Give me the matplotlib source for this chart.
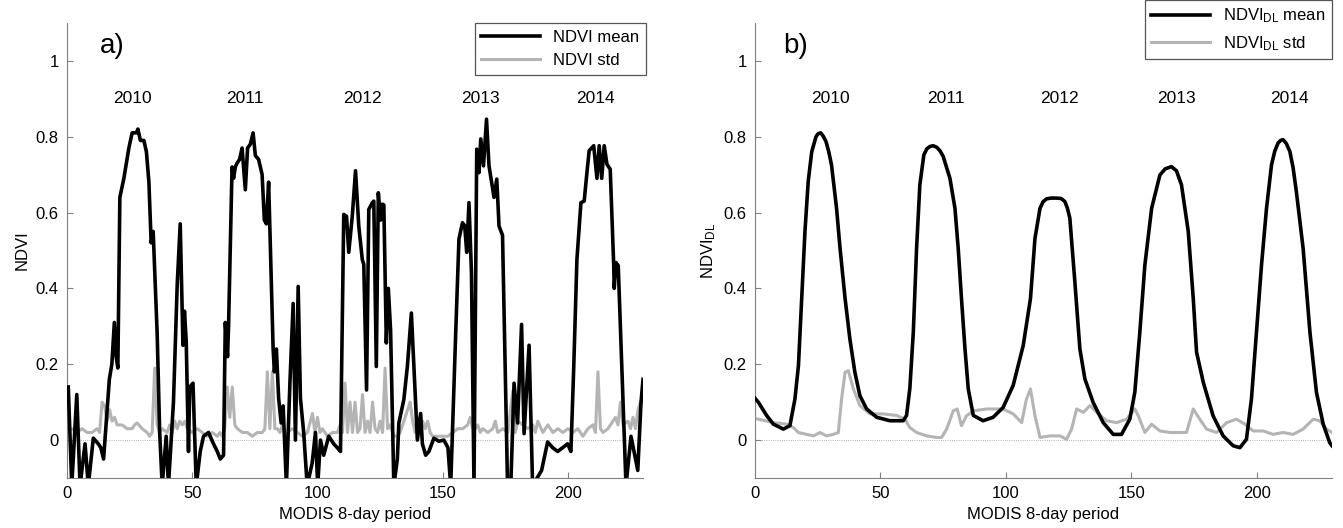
import matplotlib
matplotlib.use("Agg")
import matplotlib.pyplot as plt

plt.rcParams["font.family"] = ["Liberation Sans", "DejaVu Sans"]
plt.rcParams["mathtext.default"] = "regular"

# a) raw NDVI, mean over the field (vertices read off the picture)
ndvi_x = [0.5, 1.9, 3.9, 5.2, 7.2, 8.5, 10.5, 12.5, 13.5, 14.6, 16.9, 17.9, 18.9, 19.6, 20.3,
          21.1, 22.7, 24.7, 26, 27.7, 28.3, 29.3, 30.7, 31.7, 32.7, 33.6, 34.4, 36, 37, 38,
          39.6, 40.5, 42.5, 44, 45.2, 46.3, 46.9, 47.6, 48.5, 49, 50.3, 51.6, 53.2, 54.5, 56.5,
          58.5, 60, 61.2, 62.5, 63.2, 64.1, 64.5, 65.9, 66.5, 67.2, 67.9, 68.9, 69.9, 71.2, 72.1,
          73.2, 74.3, 75.2, 76.5, 77.9, 78.8, 79.6, 80.5, 81.2, 82.3, 82.8, 83.6, 84.5, 85.5, 86.3,
          87.6, 89, 90.3, 91.2, 92.3, 93.2, 94.5, 95.9, 97.9, 99.2, 100.1, 101.2, 102.5, 104.5, 106.5,
          107.9, 109.2, 110.5, 111.6, 112.5, 113.9, 115.2, 116.5, 117.9, 118.5, 119.6, 120.5, 121.9, 122.5, 123.5,
          124.3, 125.2, 125.9, 126.5, 127.5, 128.3, 129.2, 130.5, 131.9, 132.5, 134.5, 135.9, 137.5, 138.5, 139.9,
          141.2, 141.9, 143.2, 144.5, 146.5, 148.5, 150.5, 152.1, 153.2, 155.2, 156.5, 157.9, 158.8, 159.6, 160.5,
          161.5, 162.5, 163.6, 164.5, 165.2, 166.3, 167.5, 168.5, 170.5, 171.6, 172.5, 173.9, 175.9, 177.2, 178.5,
          179.9, 181.5, 182.5, 184.5, 185.9, 189.5, 191.9, 193.9, 195.9, 197.9, 199.9, 201.2, 202.3, 203.6, 205.2,
          206.5, 207.6, 208.5, 210.3, 211.6, 212.5, 213.5, 214.5, 215.6, 216.9, 218.3, 218.5, 219.2, 220.1, 223.2,
          225.2, 227.9, 229.2, 230]
ndvi_mean = [0.14, -0.12, 0.12, -0.12, -0.01, -0.12, 0.005, -0.01, -0.02, -0.05, 0.16, 0.2, 0.31, 0.22, 0.19,
             0.64, 0.69, 0.77, 0.81, 0.81, 0.82, 0.79, 0.79, 0.76, 0.68, 0.52, 0.55, 0.28, 0.02, -0.12,
             0.01, -0.12, 0.1, 0.41, 0.57, 0.25, 0.34, 0.26, -0.03, 0.14, 0.15, -0.12, -0.03, 0.01, 0.02,
             -0.01, -0.03, -0.05, -0.04, 0.31, 0.22, 0.30, 0.72, 0.69, 0.72, 0.73, 0.74, 0.77, 0.66, 0.77,
             0.78, 0.81, 0.75, 0.74, 0.70, 0.58, 0.57, 0.68, 0.51, 0.24, 0.18, 0.24, 0.11, 0.045, 0.09,
             -0.12, 0.15, 0.36, 0.0, 0.405, 0.11, 0.02, -0.12, -0.06, 0.02, -0.12, 0.0, -0.04, 0.01, -0.01,
             -0.02, -0.03, 0.595, 0.59, 0.495, 0.59, 0.71, 0.564, 0.476, 0.463, 0.132, 0.608, 0.626, 0.63, 0.194,
             0.652, 0.58, 0.622, 0.62, 0.256, 0.40, 0.29, -0.12, -0.05, 0.045, 0.107, 0.194, 0.335, 0.194, 0.0,
             0.07, -0.01, -0.04, -0.03, 0.005, -0.003, 0.0, -0.02, -0.12, 0.282, 0.53, 0.573, 0.565, 0.495, 0.626,
             0.44, -0.12, 0.767, 0.705, 0.794, 0.723, 0.846, 0.723, 0.64, 0.688, 0.564, 0.54, -0.12, -0.12, 0.15,
             0.045, 0.305, 0.017, 0.25, -0.12, -0.08, -0.005, -0.02, -0.03, -0.02, -0.01, -0.03, 0.185, 0.476, 0.626,
             0.63, 0.705, 0.763, 0.776, 0.69, 0.776, 0.69, 0.776, 0.727, 0.714, 0.46, 0.40, 0.468, 0.46, -0.12,
             0.01, -0.08, 0.10, 0.16]

# a) raw NDVI, standard deviation
std_x = [0, 2, 4, 6, 8, 10, 12, 13, 14, 15, 16, 17, 18, 19, 20, 22, 24, 26, 27, 28, 30, 32, 33, 34, 35,
         36, 37, 38, 40, 41, 42, 43, 44, 45, 46, 47, 48, 50, 52, 54, 56, 58, 60, 61, 62, 63, 64, 65, 66,
         67, 68, 69, 70, 72, 74, 76, 78, 79, 80, 81, 82, 83, 84, 85, 86, 87, 88, 90, 92, 94, 96, 98, 99,
         100, 101, 102, 104, 106, 108, 109, 110, 111, 112, 113, 114, 115, 116, 117, 118, 119, 120, 121, 122,
         123, 124, 125, 126, 127, 128, 129, 130, 131, 132, 133, 134, 136, 137, 138, 139, 140, 142, 143, 144,
         145, 146, 148, 150, 152, 154, 156, 158, 160, 161, 162, 163, 164, 165, 166, 168, 170, 171, 172, 174,
         176, 178, 179, 180, 182, 184, 186, 187, 188, 190, 192, 194, 196, 198, 200, 202, 204, 206, 208, 210,
         211, 212, 213, 214, 216, 218, 219, 220, 221, 222, 224, 225, 226, 227, 228, 229, 230]
ndvi_std = [0.02, 0.03, 0.02, 0.03, 0.02, 0.02, 0.03, 0.02, 0.10, 0.09, 0.05, 0.08, 0.05, 0.06, 0.04, 0.04,
            0.03, 0.03, 0.04, 0.045, 0.03, 0.02, 0.01, 0.02, 0.19,
            0.04, 0.02, 0.03, 0.02, 0.04, 0.02, 0.05, 0.03, 0.05, 0.04, 0.05, 0.03, 0.02, 0.03, 0.02, 0.01,
            0.02, 0.01, 0.02, 0.01, 0.03, 0.14, 0.06, 0.14,
            0.04, 0.03, 0.025, 0.02, 0.02, 0.01, 0.02, 0.02, 0.03, 0.18, 0.03, 0.18, 0.03, 0.03, 0.02, 0.04,
            0.01, 0.02, 0.03, 0.02, 0.01, 0.02, 0.07, 0.02,
            0.06, 0.02, 0.03, 0.01, 0.02, 0.02, 0.04, 0.02, 0.15, 0.02, 0.10, 0.02, 0.10, 0.02, 0.03, 0.12,
            0.02, 0.05, 0.02, 0.10,
            0.03, 0.02, 0.05, 0.02, 0.19, 0.03, 0.04, 0.02, 0.01, 0.01, 0.02, 0.04, 0.08, 0.10, 0.05, 0.02,
            0.02, 0.05, 0.03, 0.05,
            0.02, 0.01, 0.01, 0.01, 0.01, 0.02, 0.03, 0.03, 0.04, 0.06, 0.03, 0.03, 0.04, 0.02, 0.03, 0.02,
            0.03, 0.05, 0.02, 0.03,
            0.02, 0.13, 0.02, 0.05, 0.04, 0.03, 0.04, 0.02, 0.05, 0.02, 0.04, 0.02, 0.03, 0.02, 0.03, 0.02,
            0.03, 0.01, 0.03, 0.04,
            0.02, 0.18, 0.03, 0.02, 0.03, 0.05, 0.06, 0.04, 0.10, 0.04, 0.05, 0.03, 0.06, 0.03, 0.08, 0.10, 0.10]

# b) double-logistic fitted NDVI, mean
dl_x = [0, 1.3, 4.6, 7.3, 11.3, 13.9, 15.9, 17.3, 18.6, 19.9, 21.2, 22.6, 24.3, 25.2, 26.2, 27.3, 28.3,
        29.4, 30.5, 32.5, 33.9, 35.9, 37.8, 39.8, 41.8, 44.5, 48.5, 53.8, 59.1, 60.4, 61.7, 63.1, 64.4,
        65.7, 67.3, 68.5, 69.7, 71, 72.4, 73.7, 75.0, 77.7, 79.7, 81, 82.3, 83.7, 85, 87, 90.9, 94.9, 98.9,
        102.9, 106.9, 109.8, 111.6, 113.6, 114.8, 116.2, 118, 120.2, 122, 123.5, 124.5, 125.5, 127.5, 129.5,
        131.5, 134.8, 138.8, 142.8, 146.1, 149.4, 151.4, 153.4, 155.4, 158.1, 161.4, 163.5, 166.0, 168,
        170.0, 172.7, 174.7, 176.0, 178.7, 182.6, 186.6, 190.6, 193.3, 195.9, 197.9, 199.9, 201.9, 203.9,
        205.9, 207.2, 208.5, 209.5, 210.5, 211.8, 213.2, 214.5, 215.8, 218.5, 221.2, 223.8, 226.5, 229.1,
        230]
dl_mean = [0.11, 0.10, 0.065, 0.042, 0.029, 0.038, 0.108, 0.196, 0.373, 0.55, 0.682, 0.76, 0.80, 0.808,
           0.81, 0.80, 0.787, 0.76, 0.725, 0.611, 0.505, 0.373, 0.267, 0.179, 0.117, 0.082, 0.06, 0.051,
           0.051, 0.065, 0.135, 0.285, 0.505, 0.673, 0.752, 0.768, 0.774, 0.776, 0.772, 0.763, 0.748, 0.69,
           0.611, 0.505, 0.373, 0.24, 0.135, 0.065, 0.051, 0.06, 0.086, 0.144, 0.249, 0.373, 0.532, 0.611,
           0.628, 0.636, 0.638, 0.638, 0.637, 0.629, 0.612, 0.585, 0.417, 0.24, 0.161, 0.099, 0.046, 0.015,
           0.015, 0.055, 0.126, 0.285, 0.461, 0.611, 0.699, 0.715, 0.721, 0.71, 0.673, 0.55, 0.373, 0.232,
           0.152, 0.064, 0.011, -0.015, -0.02, 0.002, 0.109, 0.285, 0.461, 0.611, 0.726, 0.762, 0.783, 0.79,
           0.792, 0.782, 0.761, 0.718, 0.655, 0.505, 0.285, 0.126, 0.042, -0.007, -0.015]

# b) double-logistic fitted NDVI, standard deviation
dls_x = [0, 1.3, 7.3, 12.6, 15.3, 17.3, 20.6, 23.3, 25.9, 28.5, 31.2, 33.2, 34.5, 35.9, 37.2, 39.2,
         41.8, 45.8, 51.1, 56.4, 59.8, 61.7, 64.4, 68.4, 72.4, 74.4, 76.4, 79.0, 80.6, 82.3, 84.3, 87,
         92.3, 98.9, 102.9, 106.3, 108.2, 109.8, 111.6, 113.6, 117.6, 121.6, 124.2, 126.2, 128.2, 130.9,
         133.5, 136.2, 140.1, 144.1, 148.1, 151.4, 152.8, 155.4, 158.1, 161.4, 165.4, 169.4, 172.0, 174.7,
         177.3, 180.0, 184.0, 188.0, 191.9, 195.3, 198.6, 202.6, 206.5, 210.5, 214.5, 218.5, 222.5, 225.1,
         227.8, 230]
dl_std = [0.057, 0.055, 0.046, 0.042, 0.033, 0.02, 0.015, 0.011, 0.02, 0.011, 0.015, 0.02, 0.108, 0.179,
          0.183, 0.135, 0.091, 0.069, 0.069, 0.065, 0.055, 0.033, 0.02, 0.011, 0.007, 0.007, 0.029, 0.077,
          0.082, 0.038, 0.064, 0.077, 0.082, 0.082, 0.069, 0.046, 0.108, 0.135, 0.064, 0.007, 0.011, 0.011,
          0.002, 0.029, 0.082, 0.073, 0.091, 0.073, 0.051, 0.046, 0.055, 0.082, 0.064, 0.02, 0.042, 0.024,
          0.02, 0.02, 0.02, 0.082, 0.055, 0.029, 0.02, 0.046, 0.055, 0.042, 0.024, 0.024, 0.015, 0.02,
          0.015, 0.029, 0.055, 0.051, 0.029, 0.02]

years = ["2010", "2011", "2012", "2013", "2014"]
year_pos_a = [26, 71, 118, 165, 211]
year_pos_b = [30, 76, 121.5, 168, 213]

fig = plt.figure(figsize=(13.43, 5.28), dpi=100)
ax1 = fig.add_axes([0.0499, 0.0947, 0.4289, 0.862])
ax2 = fig.add_axes([0.5622, 0.0947, 0.4296, 0.862])

axis_grey = "#808080"
std_grey = "#b4b4b4"

panels = [
    (ax1, ndvi_x, ndvi_mean, std_x, ndvi_std, "NDVI", "NDVI mean", "NDVI std", "a)", year_pos_a, 18),
    (ax2, dl_x, dl_mean, dls_x, dl_std, "NDVI$_{DL}$", "NDVI$_{DL}$ mean", "NDVI$_{DL}$ std", "b)", year_pos_b, 16),
]
for ax, mx, my, sx, sy, ylab, lab_m, lab_s, tag, ypos, tag_x in panels:
    ax.axhline(0, color="#999999", lw=0.6, ls=":", zorder=1)
    ax.plot(mx, my, color="black", lw=2.6, label=lab_m, zorder=3, solid_joinstyle="round")
    ax.plot(sx, sy, color=std_grey, lw=2.2, label=lab_s, zorder=2, solid_joinstyle="round")
    ax.set_xlim(0, 230)
    ax.set_ylim(-0.1, 1.1)
    ax.set_xticks([0, 50, 100, 150, 200])
    ax.set_yticks([0, 0.2, 0.4, 0.6, 0.8, 1.0], ["0", "0.2", "0.4", "0.6", "0.8", "1"])
    ax.tick_params(direction="in", length=4, color=axis_grey, labelsize=12, pad=6)
    for side in ["top", "right"]:
        ax.spines[side].set_visible(False)
    for side in ["left", "bottom"]:
        ax.spines[side].set_color(axis_grey)
    ax.set_xlabel("MODIS 8-day period", fontsize=12, labelpad=4)
    ax.set_ylabel(ylab, fontsize=12)
    for yr, xp in zip(years, ypos):
        ax.text(xp, 0.9, yr, ha="center", va="center", fontsize=12.5)
    ax.text(tag_x, 1.04, tag, ha="center", va="center", fontsize=20)

leg1 = ax1.legend(loc="upper right", bbox_to_anchor=(1.005, 1.0), fontsize=12, handlelength=3.5,
                  fancybox=False, edgecolor="#555555", framealpha=1, borderaxespad=0)
leg2 = ax2.legend(loc="upper right", bbox_to_anchor=(1.0, 1.05), fontsize=12, handlelength=3.5,
                  fancybox=False, edgecolor="#555555", framealpha=1, borderaxespad=0)
for leg in (leg1, leg2):
    leg.get_frame().set_linewidth(0.9)

fig.savefig("out.png", dpi=100)
